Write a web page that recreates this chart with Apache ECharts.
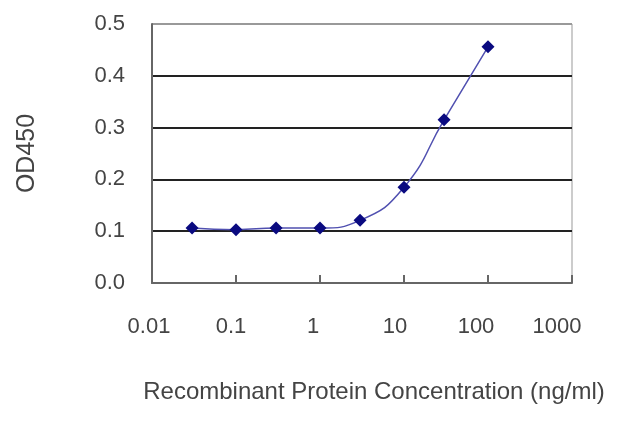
<!DOCTYPE html>
<html><head><meta charset="utf-8">
<script src="https://cdn.jsdelivr.net/npm/echarts@6/dist/echarts.min.js"></script>
<style>html,body{margin:0;padding:0;background:#fff}#c{width:640px;height:427px}</style>
</head><body><div id="c"></div>
<script>
const concentrations = [0.03, 0.1, 0.3, 1, 3, 10, 30, 100];
const od450 = [0.106, 0.103, 0.106, 0.106, 0.121, 0.185, 0.315, 0.456];
const xTickLabels = ['0.01', '0.1', '1', '10', '100', '1000'];
const yTickLabels = ['0.0', '0.1', '0.2', '0.3', '0.4', '0.5'];
const xTitle = 'Recombinant Protein Concentration (ng/ml)';
const yTitle = 'OD450';

const font = 'Liberation Sans, Arial, sans-serif';
const labelShift = [6, 10, 14, 18, 24, 30];
const rich = {};
labelShift.forEach((p, i) => { rich['l' + i] = { fontFamily: font, fontSize: 22, color: '#444', padding: [0, p, 0, 0] }; });

const chart = echarts.init(document.getElementById('c'));
chart.setOption({
  animation: false,
  grid: { left: 152, top: 24, right: 68, bottom: 144, show: true, borderColor: '#999', borderWidth: 1 },
  xAxis: {
    type: 'log', logBase: 10, min: 0.01, max: 1000,
    name: xTitle, nameLocation: 'middle', nameGap: 97,
    nameTextStyle: { fontFamily: font, fontSize: 24, color: '#444', padding: [0, 0, 0, 24] },
    axisLine: { lineStyle: { color: '#666', width: 2 } },
    axisTick: { inside: true, length: 8, lineStyle: { color: '#666', width: 2 } },
    axisLabel: { fontFamily: font, fontSize: 22, color: '#444', margin: 33, rich: rich,
      formatter: function (v) { const i = Math.round(Math.log10(v)) + 2; return xTickLabels[i] ? '{l' + i + '|' + xTickLabels[i] + '}' : ''; } },
    minorTick: { show: false },
    splitLine: { show: false }
  },
  yAxis: {
    type: 'value', min: 0, max: 0.5, interval: 0.1,
    name: yTitle, nameLocation: 'middle', nameGap: 112, nameRotate: 90,
    nameTextStyle: { fontFamily: font, fontSize: 25, color: '#444' },
    axisLine: { show: true, lineStyle: { color: '#666', width: 2 } },
    axisTick: { show: false },
    axisLabel: { fontFamily: font, fontSize: 22, color: '#444', margin: 27,
      formatter: function (v) { return yTickLabels[Math.round(v * 10)]; } },
    splitLine: { show: true, lineStyle: { color: ['#666', '#222', '#222', '#222', '#222', '#999'], width: 2 } }
  },
  series: [{
    type: 'line',
    data: concentrations.map((c, i) => [c, od450[i]]),
    smooth: true,
    symbol: 'diamond', symbolSize: 13,
    lineStyle: { color: '#5050b0', width: 1.5 },
    itemStyle: { color: '#0a0a80' }
  }]
});
</script></body></html>
